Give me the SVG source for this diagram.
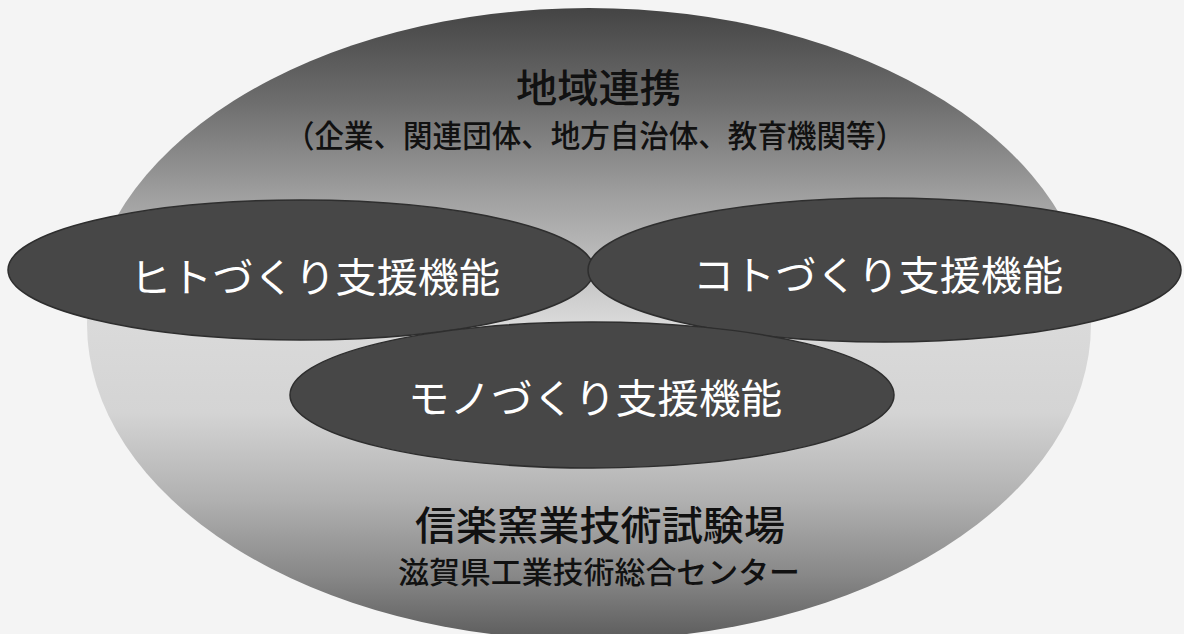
<svg xmlns="http://www.w3.org/2000/svg" width="1184" height="634" viewBox="0 0 1184 634">
  <defs>
    <linearGradient id="outerGrad" gradientUnits="userSpaceOnUse" x1="0" y1="8" x2="0" y2="640">
      <stop offset="0" stop-color="#444444"/>
      <stop offset="0.15" stop-color="#6e6e6e"/>
      <stop offset="0.3" stop-color="#a0a0a0"/>
      <stop offset="0.5" stop-color="#dadada"/>
      <stop offset="0.64" stop-color="#d4d4d4"/>
      <stop offset="0.78" stop-color="#b0b0b0"/>
      <stop offset="0.9" stop-color="#878787"/>
      <stop offset="1" stop-color="#5c5c5c"/>
    </linearGradient>
    <style>
      .func { fill: #474747; stroke: #2e2e2e; stroke-width: 1.5; }
      .wt { fill: #ffffff; font-family: "Noto Sans CJK JP", "Noto Sans", sans-serif; font-size: 40px; font-weight: 400; }
      .bt { fill: #111111; font-family: "Noto Sans CJK JP", "Noto Sans", sans-serif; font-weight: 500; }
    </style>
  </defs>
  <rect x="0" y="0" width="1184" height="634" fill="#f4f4f4"/>

  <g id="outer">
    <ellipse cx="589" cy="324" rx="502" ry="316" fill="url(#outerGrad)"/>
    <text class="bt" x="516" y="102" font-size="39" textLength="165" lengthAdjust="spacingAndGlyphs">地域連携</text>
    <text class="bt" x="285" y="147" font-size="31" textLength="620" lengthAdjust="spacingAndGlyphs">（企業、関連団体、地方自治体、教育機関等）</text>
    <text class="bt" x="415" y="540" font-size="40" textLength="370" lengthAdjust="spacingAndGlyphs">信楽窯業技術試験場</text>
    <text class="bt" x="398" y="583" font-size="30" textLength="402" lengthAdjust="spacingAndGlyphs">滋賀県工業技術総合センター</text>
  </g>

  <g id="connectors"></g>

  <g id="hito">
    <ellipse class="func" cx="301" cy="270" rx="293" ry="70"/>
    <text class="wt" x="130" y="292" textLength="370" lengthAdjust="spacingAndGlyphs">ヒトづくり支援機能</text>
  </g>

  <g id="koto">
    <ellipse class="func" cx="884.5" cy="270" rx="296.5" ry="72"/>
    <text class="wt" x="693" y="290" textLength="370" lengthAdjust="spacingAndGlyphs">コトづくり支援機能</text>
  </g>

  <g id="mono">
    <ellipse class="func" cx="592" cy="395" rx="302" ry="73"/>
    <text class="wt" x="408" y="413" textLength="374" lengthAdjust="spacingAndGlyphs">モノづくり支援機能</text>
  </g>
</svg>
